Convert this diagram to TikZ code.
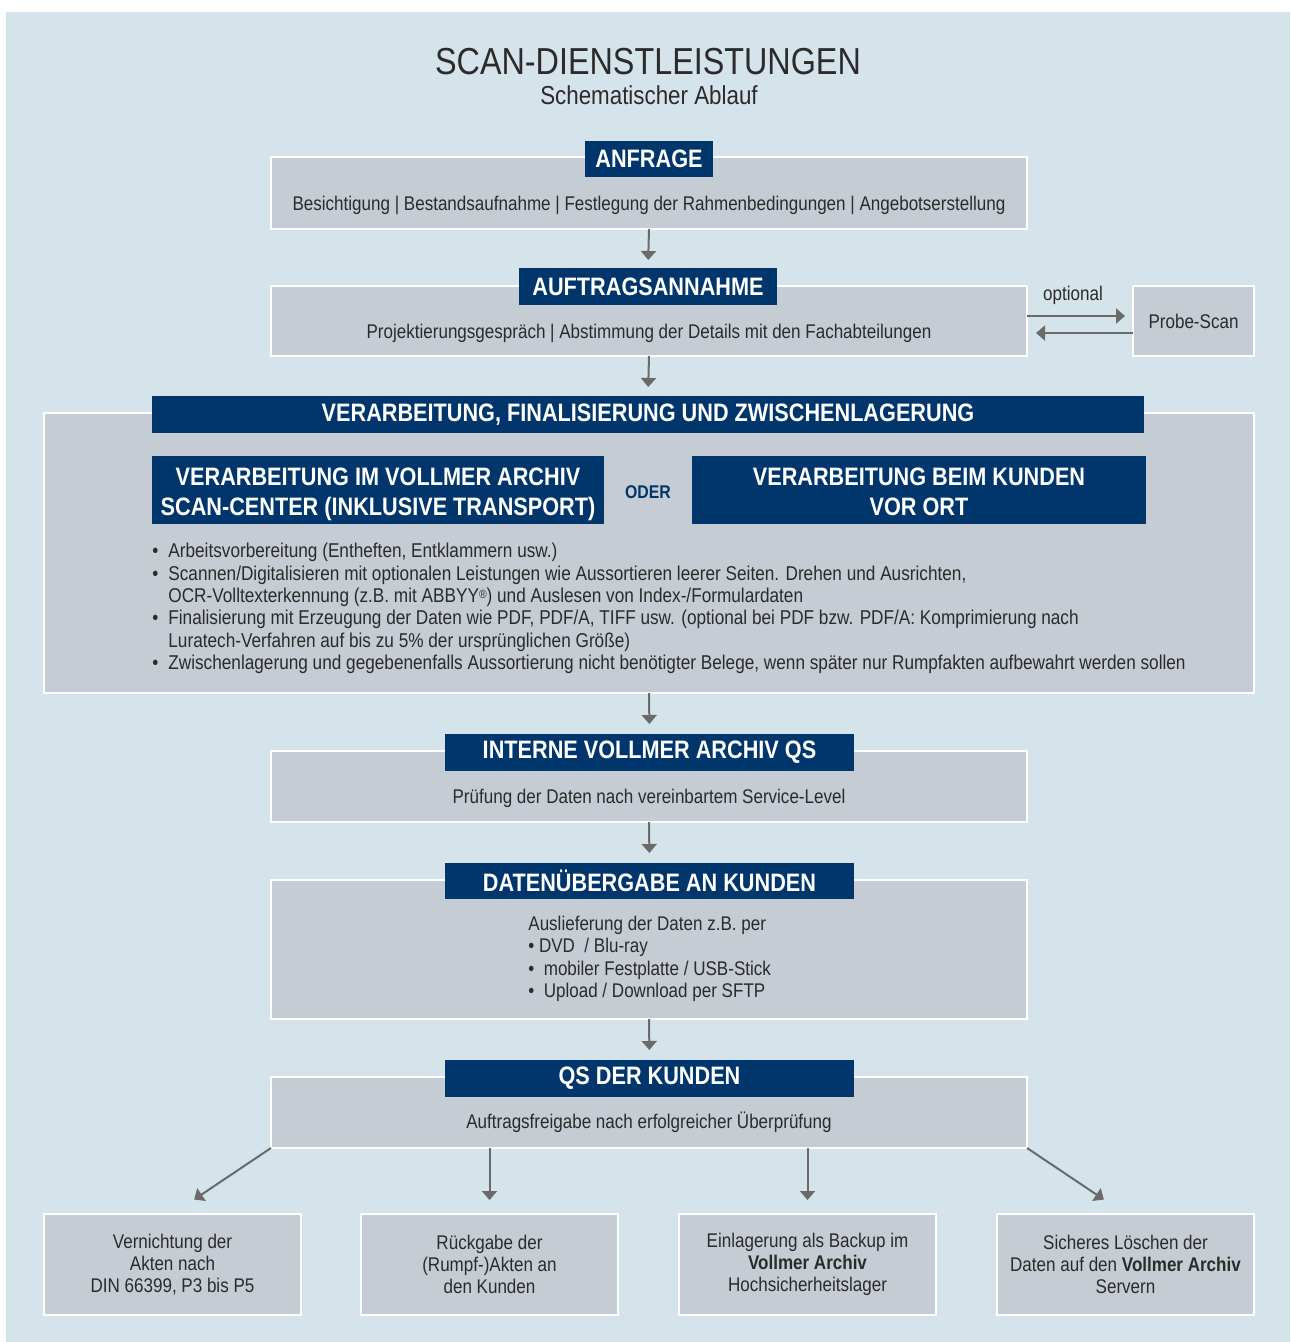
\documentclass[tikz,border=0pt]{standalone}
\usepackage{fontspec}
\setmainfont{Liberation Sans}[FakeStretch=0.86]
\usepackage{xcolor}
\usepackage{tikz}
\usetikzlibrary{calc,positioning,arrows.meta}

\definecolor{scanBg}{HTML}{D5E3EA}
\definecolor{scanBox}{HTML}{C6CCD3}
\definecolor{scanNavy}{HTML}{00366B}
\definecolor{scanText}{HTML}{2B2B2B}
\definecolor{scanArrow}{HTML}{6A6A6A}

\begin{document}
\begin{tikzpicture}[x=0.5pt, y=-0.5pt]
  % coordinates are pixels of the page, y grows downwards
  \tikzset{
    stageBox/.style={draw=white, line width=1pt, fill=scanBox, inner sep=0pt, outer sep=0pt, anchor=north west, text=scanText, align=center, font=\fontsize{9.9}{11.1}\selectfont},
    stageHead/.style={fill=scanNavy, text=white, inner sep=0pt, outer sep=0pt, anchor=north west, align=center, font=\fontsize{12.6}{15}\selectfont\bfseries},
    stageText/.style={text=scanText, inner sep=0pt, align=center, font=\fontsize{9.9}{11.1}\selectfont},
    flowArrow/.style={draw=scanArrow, line width=1pt, -{Triangle[length=4.5pt, width=7.5pt]}, shorten >=4.5pt}
  }

  % --- Page background ---
  \fill[white] (0,0) rectangle (1290,1342);
  \fill[scanBg] (6,12) rectangle (1290,1342);
  \useasboundingbox (0,0) rectangle (1290,1342);

  % --- Title ---
  \node[text=scanText, font=\fontsize{18.8}{20}\selectfont] (title) at (648,62) {SCAN-DIENSTLEISTUNGEN};
  \node[text=scanText, font=\fontsize{13}{14}\selectfont] (subtitle) at (649,95) {Schematischer Ablauf};

  % --- Stage 1: Anfrage ---
  \node[stageBox, minimum width=378pt, minimum height=36pt] (c1-box) at (271,157) {};
  \node[stageHead, minimum width=64pt, minimum height=18pt] (c1-head) at (585,141) {ANFRAGE};
  \node[stageText] (c1-text) at (649,205) {Besichtigung | Bestandsaufnahme | Festlegung der Rahmenbedingungen | Angebotserstellung};

  % --- Stage 2: Auftragsannahme (with optional Probe-Scan) ---
  \node[stageBox, minimum width=378pt, minimum height=35pt] (c2-box) at (271,286) {};
  \node[stageHead, minimum width=129pt, minimum height=18.5pt] (c2-head) at (519,268) {AUFTRAGSANNAHME};
  \node[stageText] (c2-text) at (649,333) {Projektierungsgespräch | Abstimmung der Details mit den Fachabteilungen};
  \node[stageBox, minimum width=60.5pt, minimum height=35pt] (probe-box) at (1133,286) {\raisebox{-1pt}{Probe-Scan}};
  \node[stageText] (probe-label) at (1073,295) {optional};

  % --- Stage 3: Verarbeitung ---
  \node[stageBox, minimum width=605pt, minimum height=140pt] (c3-box) at (44,413) {};
  \node[stageHead, minimum width=496pt, minimum height=18.5pt] (c3-head) at (152,396) {VERARBEITUNG, FINALISIERUNG UND ZWISCHENLAGERUNG};
  \node[stageHead, minimum width=226pt, minimum height=34pt] (c3-left) at (152,456) {};
  \node[stageHead, fill=none, anchor=center] (c3-left-text) at (378,494) {VERARBEITUNG IM VOLLMER ARCHIV\\SCAN-CENTER (INKLUSIVE TRANSPORT)};
  \node[text=scanNavy, font=\fontsize{9.2}{11}\selectfont\bfseries] (c3-oder) at (648,492) {ODER};
  \node[stageHead, minimum width=227pt, minimum height=34pt] (c3-right) at (692,456) {};
  \node[stageHead, fill=none, anchor=center] (c3-right-text) at (919,492) {VERARBEITUNG BEIM KUNDEN\\VOR ORT};
  \node[stageText, align=left, anchor=north west, font=\fontsize{10}{11.15}\selectfont] (c3-list) at (152,543) {%
    \makebox[8pt][l]{\textbullet}Arbeitsvorbereitung (Entheften, Entklammern usw.)\\
    \makebox[8pt][l]{\textbullet}Scannen/Digitalisieren mit optionalen Leistungen wie Aussortieren leerer Seiten. Drehen und Ausrichten,\\
    \hspace*{8pt}OCR-Volltexterkennung (z.B. mit ABBYY{\fontsize{6}{6}\selectfont\raisebox{2pt}{®}}) und Auslesen von Index-/Formulardaten\\
    \makebox[8pt][l]{\textbullet}Finalisierung mit Erzeugung der Daten wie PDF, PDF/A, TIFF usw. (optional bei PDF bzw. PDF/A: Komprimierung nach\\
    \hspace*{8pt}Luratech-Verfahren auf bis zu 5\% der ursprünglichen Größe)\\
    \makebox[8pt][l]{\textbullet}Zwischenlagerung und gegebenenfalls Aussortierung nicht benötigter Belege, wenn später nur Rumpfakten aufbewahrt werden sollen};

  % --- Stage 4: interne QS ---
  \node[stageBox, minimum width=378pt, minimum height=35.5pt] (c4-box) at (271,751) {};
  \node[stageHead, minimum width=204.5pt, minimum height=18.5pt] (c4-head) at (445,734) {INTERNE VOLLMER ARCHIV QS};
  \node[stageText] (c4-text) at (649,798) {Prüfung der Daten nach vereinbartem Service-Level};

  % --- Stage 5: Datenuebergabe ---
  \node[stageBox, minimum width=378pt, minimum height=69.5pt] (c5-box) at (271,880) {};
  \node[stageHead, minimum width=204.5pt, minimum height=18pt] (c5-head) at (445,863) {DATENÜBERGABE AN KUNDEN};
  \node[stageText, align=left, anchor=north west] (c5-text) at (528,916) {%
    Auslieferung der Daten z.B. per\\
    \textbullet\ DVD \ / Blu-ray\\
    \textbullet\ \ mobiler Festplatte / USB-Stick\\
    \textbullet\ \ Upload / Download per SFTP};

  % --- Stage 6: QS der Kunden ---
  \node[stageBox, minimum width=378pt, minimum height=35.5pt] (c6-box) at (271,1077) {};
  \node[stageHead, minimum width=204.5pt, minimum height=18.5pt] (c6-head) at (445,1060) {QS DER KUNDEN};
  \node[stageText] (c6-text) at (649,1122) {Auftragsfreigabe nach erfolgreicher Überprüfung};

  % --- Outcomes ---
  \node[stageBox, minimum width=128.5pt, minimum height=50.5pt] (out1) at (44,1214) {Vernichtung der\\Akten nach\\DIN 66399, P3 bis P5};
  \node[stageBox, minimum width=128.5pt, minimum height=50.5pt] (out2) at (361,1214) {Rückgabe der\\(Rumpf-)Akten an\\den Kunden};
  \node[stageBox, minimum width=128.5pt, minimum height=50.5pt] (out3) at (679,1214) {Einlagerung als Backup im\\\textbf{Vollmer Archiv}\\Hochsicherheitslager};
  \node[stageBox, minimum width=128.5pt, minimum height=50.5pt] (out4) at (997,1214) {Sicheres Löschen der\\Daten auf den \textbf{Vollmer Archiv}\\Servern};

  % --- Connectors ---
  \draw[flowArrow, shorten >=4pt] (c1-box.south) -- (c2-head.north);
  \draw[flowArrow] (c2-box.south) -- (c3-head.north);
  \draw[flowArrow, shorten >=5pt] (c3-box.south) -- (c4-head.north);
  \draw[flowArrow, shorten >=5pt] (c4-box.south) -- (c5-head.north);
  \draw[flowArrow, shorten >=5pt] (c5-box.south) -- (c6-head.north);
  \draw[flowArrow, shorten >=4pt] ($(c2-box.east)+(0,-5)$) -- ($(probe-box.west)+(0,-5)$);
  \draw[flowArrow] ($(probe-box.west)+(0,12)$) -- ($(c2-box.east)+(0,12)$);
  \draw[flowArrow, shorten >=13pt] (c6-box.south west) -- (out1.north);
  \draw[flowArrow, shorten >=7pt] (out2.north |- c6-box.south) -- (out2.north);
  \draw[flowArrow, shorten >=7pt] (out3.north |- c6-box.south) -- (out3.north);
  \draw[flowArrow, shorten >=13pt] (c6-box.south east) -- (out4.north);

\end{tikzpicture}
\end{document}
